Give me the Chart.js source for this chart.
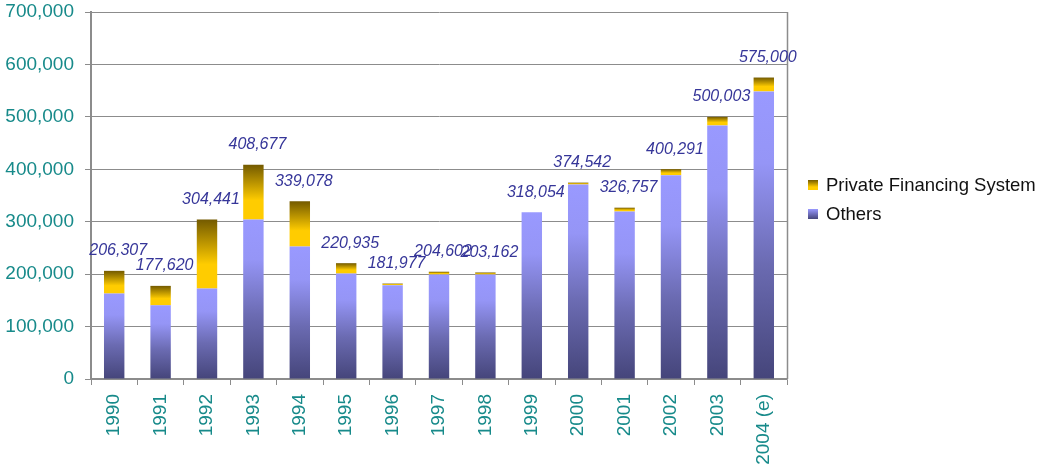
<!DOCTYPE html>
<html>
<head>
<meta charset="utf-8">
<script src="https://cdn.jsdelivr.net/npm/chart.js@4.4.0/dist/chart.umd.min.js"></script>
<style>
  html, body { margin: 0; padding: 0; background: #fff; }
  #wrap { position: relative; width: 1041px; height: 465px; }
  #legend { position: absolute; left: 808px; top: 170px; font-family: "Liberation Sans", Arial, sans-serif; font-size: 18.5px; color: #111; }
  .item { display: flex; align-items: center; height: 29px; }
  .box { width: 10px; height: 10px; margin-right: 8px; }
</style>
</head>
<body>
<div id="wrap">
  <canvas id="c" width="1041" height="465"></canvas>
  <div id="legend"></div>
</div>
<script>
const categories = ["1990","1991","1992","1993","1994","1995","1996","1997","1998","1999","2000","2001","2002","2003","2004 (e)"];
const others = [163000, 140500, 172400, 304200, 252600, 201000, 179000, 199200, 199200, 318054, 371000, 319500, 388800, 483700, 548600];
const privateFin = [43307, 37120, 132041, 104477, 86478, 19935, 2977, 5402, 3962, 0, 3542, 7257, 11491, 16303, 26400];
const totalLabels = ["206,307","177,620","304,441","408,677","339,078","220,935","181,977","204,602","203,162","318,054","374,542","326,757","400,291","500,003","575,000"];
const yTicks = [0, 100000, 200000, 300000, 400000, 500000, 600000, 700000];
const seriesNames = ["Private Financing System", "Others"];

const FONT = '"Liberation Sans", Arial, sans-serif';
const TEAL = '#178a8a';
const GRID = '#8c8c8c';

function makeGrad(ctx, kind) {
  const chart = ctx.chart;
  if (!chart.chartArea || ctx.type !== 'data') return kind === 'gold' ? '#e0b400' : '#8080dd';
  const y = chart.scales.y;
  const i = ctx.dataIndex;
  const base = kind === 'gold' ? others[i] : 0;
  const val = kind === 'gold' ? privateFin[i] : others[i];
  const y0 = y.getPixelForValue(base + val);
  const y1 = y.getPixelForValue(base);
  if (!isFinite(y0) || !isFinite(y1) || y1 - y0 < 0.5) return kind === 'gold' ? '#c9a200' : '#8080dd';
  const g = chart.ctx.createLinearGradient(0, y0, 0, y1);
  if (kind === 'gold') {
    g.addColorStop(0, '#735a00');
    g.addColorStop(0.65, '#ffcc00');
    g.addColorStop(1, '#ffcc00');
  } else {
    g.addColorStop(0, '#9999ff');
    g.addColorStop(0.25, '#9595f6');
    g.addColorStop(0.6, '#6b6bb2');
    g.addColorStop(1, '#45457a');
  }
  return g;
}

const labelPlugin = {
  id: 'totals',
  afterDatasetsDraw(chart) {
    const c = chart.ctx;
    const meta = chart.getDatasetMeta(0);
    const y = chart.scales.y;
    c.save();
    c.font = 'italic 16px ' + FONT;
    c.fillStyle = '#363699';
    c.textAlign = 'center';
    c.textBaseline = 'middle';
    meta.data.forEach((bar, i) => {
      const top = y.getPixelForValue(others[i] + privateFin[i]);
      c.fillText(totalLabels[i], bar.x + 4, top - 20);
    });
    c.restore();
  },
  beforeDatasetsDraw(chart) {
    const c = chart.ctx, a = chart.chartArea;
    c.save();
    c.strokeStyle = GRID;
    c.lineWidth = 1.5;
    c.beginPath();
    c.moveTo(a.right + 0.5, a.top);
    c.lineTo(a.right + 0.5, a.bottom);
    c.stroke();
    c.restore();
  }
};

const chart = new Chart(document.getElementById('c'), {
  type: 'bar',
  data: {
    labels: categories,
    datasets: [
      { label: seriesNames[1], data: others, backgroundColor: (ctx) => makeGrad(ctx, 'blue'), stack: 's', barPercentage: 0.44, categoryPercentage: 1.0 },
      { label: seriesNames[0], data: privateFin, backgroundColor: (ctx) => makeGrad(ctx, 'gold'), stack: 's', barPercentage: 0.44, categoryPercentage: 1.0 }
    ]
  },
  options: {
    responsive: false,
    animation: false,
    layout: { padding: { top: 12, right: 254, left: 0, bottom: 0 } },
    plugins: { legend: { display: false }, tooltip: { enabled: false } },
    scales: {
      x: {
        stacked: true,
        grid: { display: true, drawOnChartArea: false, drawTicks: true, tickLength: 6, color: GRID, offset: true },
        border: { color: GRID, width: 1.5 },
        ticks: { autoSkip: false, minRotation: 90, maxRotation: 90, color: TEAL, padding: 9, font: { family: FONT, size: 19 } },
        afterFit(scale) { scale.height = 86; scale.paddingLeft = 0; scale.paddingRight = 0; }
      },
      y: {
        stacked: true,
        min: 0, max: 700000,
        afterBuildTicks(scale) { scale.ticks = yTicks.map(v => ({ value: v })); },
        ticks: { color: TEAL, padding: 11, font: { family: FONT, size: 19 }, callback: (v) => Number(v).toLocaleString('en-US') },
        grid: { color: GRID, lineWidth: 1, tickLength: 6, tickColor: GRID },
        border: { color: GRID, width: 2 },
        afterFit(scale) { scale.width = 91; scale.paddingTop = 0; scale.paddingBottom = 0; }
      }
    }
  },
  plugins: [labelPlugin]
});

const leg = document.getElementById('legend');
const legendDefs = [
  { name: seriesNames[0], bg: 'linear-gradient(#735a00, #ffcc00 70%)' },
  { name: seriesNames[1], bg: 'linear-gradient(#9999ff, #45457a)' }
];
legendDefs.forEach(d => {
  const it = document.createElement('div'); it.className = 'item';
  const b = document.createElement('div'); b.className = 'box'; b.style.background = d.bg;
  const t = document.createElement('span'); t.textContent = d.name;
  it.appendChild(b); it.appendChild(t); leg.appendChild(it);
});
</script>
</body>
</html>
